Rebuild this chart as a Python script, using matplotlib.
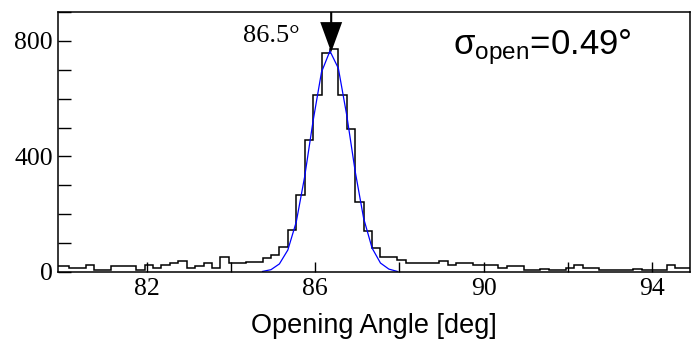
import numpy as np
import matplotlib
matplotlib.use("Agg")
import matplotlib.pyplot as plt
from matplotlib.ticker import MultipleLocator, FixedLocator

plt.rcParams['mathtext.fontset'] = 'custom'
plt.rcParams['mathtext.rm'] = 'Liberation Sans'
plt.rcParams['mathtext.it'] = 'Liberation Sans'

# histogram: 0.2 deg bins starting at 79.95 (first bin reaches the axis edge)
x_lo, x_hi = 79.9, 94.9
bin_start, bin_w = 79.95, 0.2
counts = [21, 13, 13, 24, 7, 7, 22, 22, 22, 7,
          24, 15, 24, 30, 38, 13, 22, 30, 13, 51,
          30, 30, 36, 36, 47, 59, 88, 147, 265, 456,
          611, 758, 772, 611, 494, 243, 141, 82, 52, 52,
          43, 32, 30, 30, 30, 37, 25, 30, 30, 24,
          24, 24, 15, 22, 22, 7, 7, 12, 7, 7,
          15, 24, 15, 15, 7, 7, 7, 7, 12, 7,
          7, 7, 24, 15, 15]

# gaussian fit curve
fit_x = [84.75, 84.95, 85.15, 85.35, 85.55, 85.75, 85.95, 86.15, 86.35,
         86.55, 86.75, 86.95, 87.15, 87.35, 87.55, 87.75, 87.95]
fit_y = [2, 8, 28, 76, 173, 330, 523, 692, 765,
         705, 542, 348, 186, 83, 31, 10, 2]

peak_pos = 86.38
peak_height = 761
peak_label = "86.5°"
sigma_label = r"$\mathrm{\sigma_{open}}$=0.49°"

edges = bin_start + bin_w * np.arange(len(counts) + 1)
edges[0] = x_lo

fig = plt.figure(figsize=(6.95, 3.43), dpi=100)
ax = fig.add_axes([58.3 / 695, 1 - 272 / 343, 631.7 / 695, 260 / 343])

ax.stairs(counts, edges, baseline=None, color='black', lw=1.1)
ax.plot(fit_x, fit_y, color='#0000ff', lw=0.9)

ax.set_xlim(x_lo, x_hi)
ax.set_ylim(0, 900)

# arrow marking the peak
ax.arrow(peak_pos, 900, 0, peak_height - 900, width=0.05, head_width=0.52,
         head_length=104, length_includes_head=True, color='black', lw=0)

ax.text(0.3826, 0.886, peak_label, transform=ax.transAxes, ha='right',
        va='baseline', fontsize=19, family='Liberation Serif')
ax.text(0.625, 0.838, sigma_label, transform=ax.transAxes, ha='left',
        va='baseline', fontsize=25, family='Liberation Sans')

ax.xaxis.set_major_locator(FixedLocator([82, 86, 90, 94]))
ax.xaxis.set_minor_locator(FixedLocator([84, 88, 92]))
ax.yaxis.set_major_locator(FixedLocator([0, 400, 800]))
ax.yaxis.set_minor_locator(MultipleLocator(100))
ax.tick_params(axis='both', which='both', direction='in', width=1.0)
ax.tick_params(axis='x', which='both', length=7.5, pad=4)
ax.tick_params(axis='y', which='both', length=9.5, pad=4)
for lab in ax.get_xticklabels() + ax.get_yticklabels():
    lab.set_family('Liberation Serif')
    lab.set_fontsize(18.5)

for s in ax.spines.values():
    s.set_linewidth(1.1)

ax.set_xlabel("Opening Angle [deg]", fontsize=19.5, family='Liberation Sans',
              labelpad=10)

fig.savefig("out.png", dpi=100)
